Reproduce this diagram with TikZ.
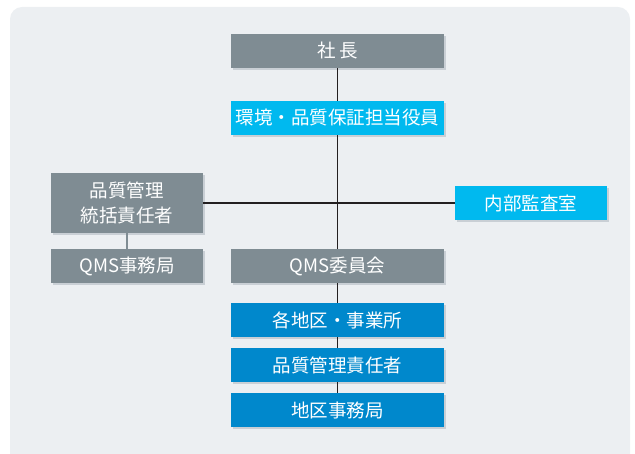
\documentclass[tikz,border=0pt]{standalone}
\usepackage{fontspec}
\setmainfont{Noto Sans CJK JP}
\usetikzlibrary{shadows}
\definecolor{bgc}{HTML}{ECEFF2}
\definecolor{grayb}{HTML}{7F8C93}
\definecolor{cyanb}{HTML}{00B9EF}
\definecolor{blueb}{HTML}{0088CC}
\definecolor{shadc}{HTML}{C9CFD5}
\definecolor{linec}{HTML}{231F20}
\tikzset{
  box/.style={inner sep=0pt, text=white, font=\fontsize{18.5}{25}\selectfont, align=center,
    drop shadow={shadow xshift=2pt, shadow yshift=-2pt, fill=shadc, opacity=1}},
  wide/.style={box, minimum width=213pt, minimum height=34pt},
  narrow/.style={box, minimum width=152pt, minimum height=34pt},
  conn/.style={linec, line width=1.5pt},
  gconn/.style={grayb, line width=1.5pt}
}
\begin{document}
\begin{tikzpicture}[x=1pt,y=-1pt]
\useasboundingbox (0,0) rectangle (635,454);
\fill[bgc, rounded corners=12pt] (10,7) rectangle (630,470);
\node[wide, fill=grayb] (pres) at (337.5,51) {社\,長};
\node[wide, fill=cyanb] (exec) at (337.5,118) {環境・品質保証担当役員};
\node[narrow, fill=grayb, minimum height=60pt] (gen) at (127,203) {品質管理\\統括責任者};
\node[narrow, fill=cyanb] (audit) at (531,203) {内部監査室};
\node[narrow, fill=grayb] (qmsoff) at (127,266) {QMS事務局};
\node[wide, fill=grayb] (qmscom) at (337.5,266) {QMS委員会};
\node[wide, fill=blueb] (site) at (337.5,320) {各地区・事業所};
\node[wide, fill=blueb] (qmgr) at (337.5,365) {品質管理責任者};
\node[wide, fill=blueb] (dist) at (337.5,410) {地区事務局};
\draw[conn] (pres.south) -- (exec.north);
\draw[conn] (exec.south) -- (qmscom.north);
\draw[conn] (gen.east) -- (audit.west);
\draw[conn] (qmscom.south) -- (site.north);
\draw[conn] (site.south) -- (qmgr.north);
\draw[conn] (qmgr.south) -- (dist.north);
\draw[gconn] (gen.south) -- (qmsoff.north);
\end{tikzpicture}
\end{document}
